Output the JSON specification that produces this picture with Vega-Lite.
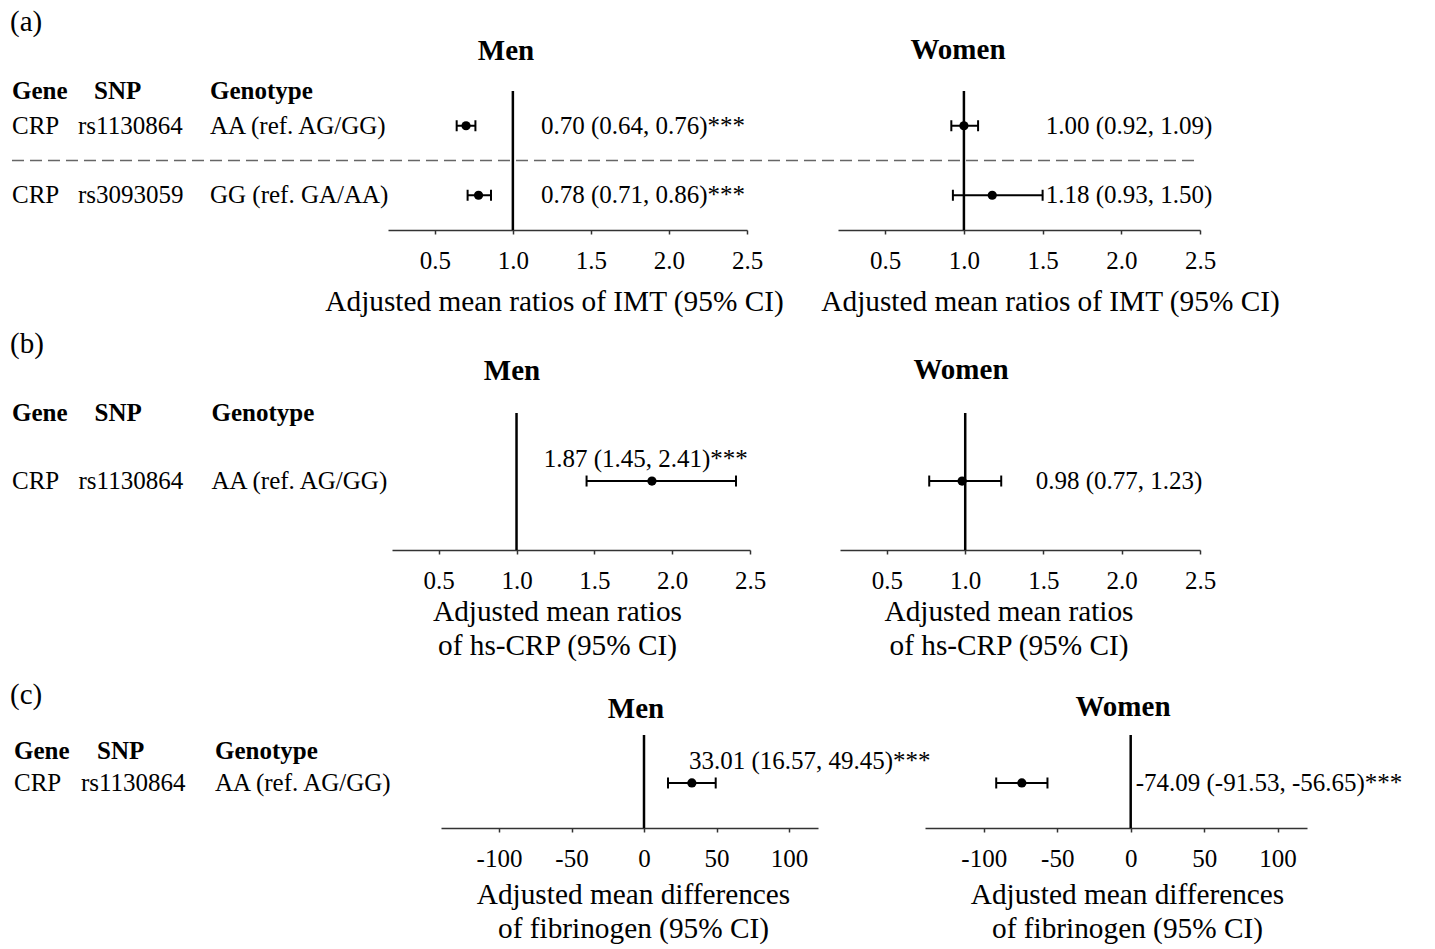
{
  "$schema": "https://vega.github.io/schema/vega-lite/v6.json",
  "background": "white",
  "padding": {"left": 10, "top": 8, "right": 5, "bottom": 2},
  "datasets": {
    "est": [
      {"fig": "a", "sex": "Men", "row": "r1", "est": 0.70, "lo": 0.64, "hi": 0.76, "label": "0.70 (0.64, 0.76)***"},
      {"fig": "a", "sex": "Men", "row": "r2", "est": 0.78, "lo": 0.71, "hi": 0.86, "label": "0.78 (0.71, 0.86)***"},
      {"fig": "a", "sex": "Women", "row": "r1", "est": 1.00, "lo": 0.92, "hi": 1.09, "label": "1.00 (0.92, 1.09)"},
      {"fig": "a", "sex": "Women", "row": "r2", "est": 1.18, "lo": 0.93, "hi": 1.50, "label": "1.18 (0.93, 1.50)"},
      {"fig": "b", "sex": "Men", "row": "r1", "est": 1.87, "lo": 1.45, "hi": 2.41, "label": "1.87 (1.45, 2.41)***"},
      {"fig": "b", "sex": "Women", "row": "r1", "est": 0.98, "lo": 0.77, "hi": 1.23, "label": "0.98 (0.77, 1.23)"},
      {"fig": "c", "sex": "Men", "row": "r1", "est": 33.01, "lo": 16.57, "hi": 49.45, "label": "33.01 (16.57, 49.45)***"},
      {"fig": "c", "sex": "Women", "row": "r1", "est": -74.09, "lo": -91.53, "hi": -56.65, "label": "-74.09 (-91.53, -56.65)***"}
    ],
    "cols": [
      {"fig": "a", "row": "header", "col": "Gene", "text": "Gene"},
      {"fig": "a", "row": "header", "col": "SNP", "text": "SNP"},
      {"fig": "a", "row": "header", "col": "Genotype", "text": "Genotype"},
      {"fig": "a", "row": "r1", "col": "Gene", "text": "CRP"},
      {"fig": "a", "row": "r1", "col": "SNP", "text": "rs1130864"},
      {"fig": "a", "row": "r1", "col": "Genotype", "text": "AA (ref. AG/GG)"},
      {"fig": "a", "row": "r2", "col": "Gene", "text": "CRP"},
      {"fig": "a", "row": "r2", "col": "SNP", "text": "rs3093059"},
      {"fig": "a", "row": "r2", "col": "Genotype", "text": "GG (ref. GA/AA)"},
      {"fig": "b", "row": "header", "col": "Gene", "text": "Gene"},
      {"fig": "b", "row": "header", "col": "SNP", "text": "SNP"},
      {"fig": "b", "row": "header", "col": "Genotype", "text": "Genotype"},
      {"fig": "b", "row": "r1", "col": "Gene", "text": "CRP"},
      {"fig": "b", "row": "r1", "col": "SNP", "text": "rs1130864"},
      {"fig": "b", "row": "r1", "col": "Genotype", "text": "AA (ref. AG/GG)"},
      {"fig": "c", "row": "header", "col": "Gene", "text": "Gene"},
      {"fig": "c", "row": "header", "col": "SNP", "text": "SNP"},
      {"fig": "c", "row": "header", "col": "Genotype", "text": "Genotype"},
      {"fig": "c", "row": "r1", "col": "Gene", "text": "CRP"},
      {"fig": "c", "row": "r1", "col": "SNP", "text": "rs1130864"},
      {"fig": "c", "row": "r1", "col": "Genotype", "text": "AA (ref. AG/GG)"}
    ]
  },
  "spacing": 322,
  "bounds": "flush",
  "vconcat": [
    {
      "hconcat": [
        {
          "width": 285, "height": 139,
          "title": {"text": "(a)", "anchor": "start", "fontWeight": "normal", "dx": -2, "offset": 42},
          "data": {"name": "cols"},
          "transform": [{"filter": "datum.fig == 'a'"}],
          "encoding": {
            "x": {"field": "col", "type": "nominal", "scale": {"type": "point", "domain": ["Gene", "SNP", "_", "Genotype"], "padding": 0.659, "align": 0}, "axis": null},
            "y": {"field": "row", "type": "nominal", "scale": {"type": "point", "domain": ["header", "r1", "mid", "r2"], "padding": 0.5, "align": 0}, "axis": null},
            "text": {"field": "text"}
          },
          "layer": [
            {"transform": [{"filter": "datum.row != 'header'"}], "mark": {"type": "text", "align": "left", "baseline": "middle"}},
            {"transform": [{"filter": "datum.row == 'header' && datum.col != 'SNP'"}], "mark": {"type": "text", "align": "left", "baseline": "middle", "fontWeight": "bold"}},
            {"transform": [{"filter": "datum.row == 'header' && datum.col == 'SNP'"}], "mark": {"type": "text", "align": "left", "baseline": "middle", "fontWeight": "bold", "dx": 16}}
          ]
        },
        {
          "width": 359, "height": 139,
          "title": {"text": "Men", "dx": -61.5, "offset": 24},
          "layer": [
            {"data": {"values": [{}]}, "mark": {"type": "rule", "color": "#000", "strokeWidth": 2.5},
             "encoding": {"x": {"datum": 1, "type": "quantitative", "scale": {"domain": [0.2, 2.5], "nice": false, "zero": false},
               "axis": {"values": [0.5, 1, 1.5, 2, 2.5], "format": ".1f", "title": "Adjusted mean ratios of IMT (95% CI)", "titleX": 166, "titlePadding": 14}}}},
            {"data": {"values": [{}]}, "mark": {"type": "rule", "color": "#666", "strokeWidth": 1.6, "strokeDash": [12, 6]},
             "encoding": {"x": {"datum": -2.209, "type": "quantitative"}, "x2": {"datum": 5.402},
               "y": {"datum": "mid", "type": "nominal", "scale": {"type": "point", "domain": ["header", "r1", "mid", "r2"], "padding": 0.5, "align": 0}, "axis": null}}},
            {"data": {"name": "est"}, "transform": [{"filter": "datum.fig == 'a' && datum.sex == 'Men'"}],
             "encoding": {"y": {"field": "row", "type": "nominal", "scale": {"type": "point", "domain": ["header", "r1", "mid", "r2"], "padding": 0.5, "align": 0}, "axis": null}},
             "layer": [
               {"mark": {"type": "rule", "color": "#000", "strokeWidth": 2}, "encoding": {"x": {"field": "lo", "type": "quantitative"}, "x2": {"field": "hi"}}},
               {"mark": {"type": "tick", "color": "#000", "size": 11, "thickness": 2, "opacity": 1}, "encoding": {"x": {"field": "lo", "type": "quantitative"}}},
               {"mark": {"type": "tick", "color": "#000", "size": 11, "thickness": 2, "opacity": 1}, "encoding": {"x": {"field": "hi", "type": "quantitative"}}},
               {"mark": {"type": "point", "filled": true, "size": 85, "color": "#000", "opacity": 1}, "encoding": {"x": {"field": "est", "type": "quantitative"}}},
               {"mark": {"type": "text", "align": "left", "baseline": "middle"}, "encoding": {"x": {"datum": 1.18, "type": "quantitative"}, "text": {"field": "label"}}}
             ]}
          ]
        },
        {
          "width": 362, "height": 139,
          "title": {"text": "Women", "dx": -61, "offset": 25},
          "layer": [
            {"data": {"values": [{}]}, "mark": {"type": "rule", "color": "#000", "strokeWidth": 2.5},
             "encoding": {"x": {"datum": 1, "type": "quantitative", "scale": {"domain": [0.2, 2.5], "nice": false, "zero": false},
               "axis": {"values": [0.5, 1, 1.5, 2, 2.5], "format": ".1f", "title": "Adjusted mean ratios of IMT (95% CI)", "titleX": 212, "titlePadding": 14}}}},
            {"data": {"name": "est"}, "transform": [{"filter": "datum.fig == 'a' && datum.sex == 'Women'"}],
             "encoding": {"y": {"field": "row", "type": "nominal", "scale": {"type": "point", "domain": ["header", "r1", "mid", "r2"], "padding": 0.5, "align": 0}, "axis": null}},
             "layer": [
               {"mark": {"type": "rule", "color": "#000", "strokeWidth": 2}, "encoding": {"x": {"field": "lo", "type": "quantitative"}, "x2": {"field": "hi"}}},
               {"mark": {"type": "tick", "color": "#000", "size": 11, "thickness": 2, "opacity": 1}, "encoding": {"x": {"field": "lo", "type": "quantitative"}}},
               {"mark": {"type": "tick", "color": "#000", "size": 11, "thickness": 2, "opacity": 1}, "encoding": {"x": {"field": "hi", "type": "quantitative"}}},
               {"mark": {"type": "point", "filled": true, "size": 85, "color": "#000", "opacity": 1}, "encoding": {"x": {"field": "est", "type": "quantitative"}}},
               {"mark": {"type": "text", "align": "left", "baseline": "middle"}, "encoding": {"x": {"datum": 1.52, "type": "quantitative"}, "text": {"field": "label"}}}
             ]}
          ]
        }
      ],
      "spacing": 91,
      "bounds": "flush"
    },
    {
      "hconcat": [
        {
          "width": 290, "height": 137,
          "title": {"text": "(b)", "anchor": "start", "fontWeight": "normal", "dx": -2, "offset": 42},
          "data": {"name": "cols"},
          "transform": [{"filter": "datum.fig == 'b'"}],
          "encoding": {
            "x": {"field": "col", "type": "nominal", "scale": {"type": "point", "domain": ["Gene", "SNP", "_", "Genotype"], "padding": 0.68, "align": 0}, "axis": null},
            "y": {"field": "row", "type": "nominal", "scale": {"type": "point", "domain": ["header", "r1"], "padding": 0.507, "align": 0}, "axis": null},
            "text": {"field": "text"}
          },
          "layer": [
            {"transform": [{"filter": "datum.row != 'header'"}], "mark": {"type": "text", "align": "left", "baseline": "middle"}},
            {"transform": [{"filter": "datum.row == 'header' && datum.col != 'SNP'"}], "mark": {"type": "text", "align": "left", "baseline": "middle", "fontWeight": "bold"}},
            {"transform": [{"filter": "datum.row == 'header' && datum.col == 'SNP'"}], "mark": {"type": "text", "align": "left", "baseline": "middle", "fontWeight": "bold", "dx": 16}}
          ]
        },
        {
          "width": 358, "height": 137,
          "title": {"text": "Men", "dx": -59, "offset": 26},
          "layer": [
            {"data": {"values": [{}]}, "mark": {"type": "rule", "color": "#000", "strokeWidth": 2.5},
             "encoding": {"x": {"datum": 1, "type": "quantitative", "scale": {"domain": [0.2, 2.5], "nice": false, "zero": false},
               "axis": {"values": [0.5, 1, 1.5, 2, 2.5], "format": ".1f", "title": ["Adjusted mean ratios", "of hs-CRP (95% CI)"], "titleX": 165, "titlePadding": 4}}}},
            {"data": {"name": "est"}, "transform": [{"filter": "datum.fig == 'b' && datum.sex == 'Men'"}],
             "encoding": {"y": {"field": "row", "type": "nominal", "scale": {"type": "point", "domain": ["header", "r1"], "padding": 0.507, "align": 0}, "axis": null}},
             "layer": [
               {"mark": {"type": "rule", "color": "#000", "strokeWidth": 2}, "encoding": {"x": {"field": "lo", "type": "quantitative"}, "x2": {"field": "hi"}}},
               {"mark": {"type": "tick", "color": "#000", "size": 11, "thickness": 2, "opacity": 1}, "encoding": {"x": {"field": "lo", "type": "quantitative"}}},
               {"mark": {"type": "tick", "color": "#000", "size": 11, "thickness": 2, "opacity": 1}, "encoding": {"x": {"field": "hi", "type": "quantitative"}}},
               {"mark": {"type": "point", "filled": true, "size": 85, "color": "#000", "opacity": 1}, "encoding": {"x": {"field": "est", "type": "quantitative"}}},
               {"mark": {"type": "text", "align": "center", "baseline": "middle", "dy": -22}, "encoding": {"x": {"datum": 1.83, "type": "quantitative"}, "text": {"field": "label"}}}
             ]}
          ]
        },
        {
          "width": 360, "height": 137,
          "title": {"text": "Women", "dx": -59, "offset": 27},
          "layer": [
            {"data": {"values": [{}]}, "mark": {"type": "rule", "color": "#000", "strokeWidth": 2.5},
             "encoding": {"x": {"datum": 1, "type": "quantitative", "scale": {"domain": [0.2, 2.5], "nice": false, "zero": false},
               "axis": {"values": [0.5, 1, 1.5, 2, 2.5], "format": ".1f", "title": ["Adjusted mean ratios", "of hs-CRP (95% CI)"], "titleX": 168.5, "titlePadding": 4}}}},
            {"data": {"name": "est"}, "transform": [{"filter": "datum.fig == 'b' && datum.sex == 'Women'"}],
             "encoding": {"y": {"field": "row", "type": "nominal", "scale": {"type": "point", "domain": ["header", "r1"], "padding": 0.507, "align": 0}, "axis": null}},
             "layer": [
               {"mark": {"type": "rule", "color": "#000", "strokeWidth": 2}, "encoding": {"x": {"field": "lo", "type": "quantitative"}, "x2": {"field": "hi"}}},
               {"mark": {"type": "tick", "color": "#000", "size": 11, "thickness": 2, "opacity": 1}, "encoding": {"x": {"field": "lo", "type": "quantitative"}}},
               {"mark": {"type": "tick", "color": "#000", "size": 11, "thickness": 2, "opacity": 1}, "encoding": {"x": {"field": "hi", "type": "quantitative"}}},
               {"mark": {"type": "point", "filled": true, "size": 85, "color": "#000", "opacity": 1}, "encoding": {"x": {"field": "est", "type": "quantitative"}}},
               {"mark": {"type": "text", "align": "left", "baseline": "middle"}, "encoding": {"x": {"datum": 1.45, "type": "quantitative"}, "text": {"field": "label"}}}
             ]}
          ]
        }
      ],
      "spacing": 90,
      "bounds": "flush"
    },
    {
      "hconcat": [
        {
          "width": 322, "height": 93,
          "title": {"text": "(c)", "anchor": "start", "fontWeight": "normal", "dx": -2, "offset": 25},
          "data": {"name": "cols"},
          "transform": [{"filter": "datum.fig == 'c'"}],
          "encoding": {
            "x": {"field": "col", "type": "nominal", "scale": {"type": "point", "domain": ["Gene", "SNP", "_", "Genotype"], "padding": 0.903, "align": 0.0165}, "axis": null},
            "y": {"field": "row", "type": "nominal", "scale": {"type": "point", "domain": ["header", "r1"], "padding": 0.953, "align": 0.262}, "axis": null},
            "text": {"field": "text"}
          },
          "layer": [
            {"transform": [{"filter": "datum.row != 'header'"}], "mark": {"type": "text", "align": "left", "baseline": "middle"}},
            {"transform": [{"filter": "datum.row == 'header' && datum.col != 'SNP'"}], "mark": {"type": "text", "align": "left", "baseline": "middle", "fontWeight": "bold"}},
            {"transform": [{"filter": "datum.row == 'header' && datum.col == 'SNP'"}], "mark": {"type": "text", "align": "left", "baseline": "middle", "fontWeight": "bold", "dx": 16}}
          ]
        },
        {
          "width": 377, "height": 93,
          "title": {"text": "Men", "dx": 6.5, "offset": 10},
          "layer": [
            {"data": {"values": [{}]}, "mark": {"type": "rule", "color": "#000", "strokeWidth": 2.5},
             "encoding": {"x": {"datum": 0, "type": "quantitative", "scale": {"domain": [-140, 120], "nice": false, "zero": false},
               "axis": {"values": [-100, -50, 0, 50, 100], "labelExpr": "'' + datum.value", "title": ["Adjusted mean differences", "of fibrinogen (95% CI)"], "titleX": 192, "titlePadding": 9}}}},
            {"data": {"name": "est"}, "transform": [{"filter": "datum.fig == 'c' && datum.sex == 'Men'"}],
             "encoding": {"y": {"field": "row", "type": "nominal", "scale": {"type": "point", "domain": ["header", "r1"], "padding": 0.953, "align": 0.262}, "axis": null}},
             "layer": [
               {"mark": {"type": "rule", "color": "#000", "strokeWidth": 2}, "encoding": {"x": {"field": "lo", "type": "quantitative"}, "x2": {"field": "hi"}}},
               {"mark": {"type": "tick", "color": "#000", "size": 11, "thickness": 2, "opacity": 1}, "encoding": {"x": {"field": "lo", "type": "quantitative"}}},
               {"mark": {"type": "tick", "color": "#000", "size": 11, "thickness": 2, "opacity": 1}, "encoding": {"x": {"field": "hi", "type": "quantitative"}}},
               {"mark": {"type": "point", "filled": true, "size": 85, "color": "#000", "opacity": 1}, "encoding": {"x": {"field": "est", "type": "quantitative"}}},
               {"mark": {"type": "text", "align": "left", "baseline": "middle", "dy": -22}, "encoding": {"x": {"datum": 31, "type": "quantitative"}, "text": {"field": "label"}}}
             ]}
          ]
        },
        {
          "width": 382, "height": 93,
          "title": {"text": "Women", "dx": 7, "offset": 12},
          "layer": [
            {"data": {"values": [{}]}, "mark": {"type": "rule", "color": "#000", "strokeWidth": 2.5},
             "encoding": {"x": {"datum": 0, "type": "quantitative", "scale": {"domain": [-140, 120], "nice": false, "zero": false},
               "axis": {"values": [-100, -50, 0, 50, 100], "labelExpr": "'' + datum.value", "title": ["Adjusted mean differences", "of fibrinogen (95% CI)"], "titleX": 202, "titlePadding": 9}}}},
            {"data": {"name": "est"}, "transform": [{"filter": "datum.fig == 'c' && datum.sex == 'Women'"}],
             "encoding": {"y": {"field": "row", "type": "nominal", "scale": {"type": "point", "domain": ["header", "r1"], "padding": 0.953, "align": 0.262}, "axis": null}},
             "layer": [
               {"mark": {"type": "rule", "color": "#000", "strokeWidth": 2}, "encoding": {"x": {"field": "lo", "type": "quantitative"}, "x2": {"field": "hi"}}},
               {"mark": {"type": "tick", "color": "#000", "size": 11, "thickness": 2, "opacity": 1}, "encoding": {"x": {"field": "lo", "type": "quantitative"}}},
               {"mark": {"type": "tick", "color": "#000", "size": 11, "thickness": 2, "opacity": 1}, "encoding": {"x": {"field": "hi", "type": "quantitative"}}},
               {"mark": {"type": "point", "filled": true, "size": 85, "color": "#000", "opacity": 1}, "encoding": {"x": {"field": "est", "type": "quantitative"}}},
               {"mark": {"type": "text", "align": "left", "baseline": "middle"}, "encoding": {"x": {"datum": 3.4, "type": "quantitative"}, "text": {"field": "label"}}}
             ]}
          ]
        }
      ],
      "spacing": 107,
      "bounds": "flush"
    }
  ],
  "config": {
    "view": {"stroke": null},
    "font": "Liberation Serif",
    "axis": {"grid": false, "domainColor": "#333", "domainWidth": 1.5, "tickColor": "#333", "tickWidth": 1.5, "tickSize": 4,
      "labelFont": "Liberation Serif", "labelFontSize": 25, "labelColor": "#000", "labelPadding": 14,
      "titleFont": "Liberation Serif", "titleFontSize": 29.3, "titleFontWeight": "normal", "titleColor": "#000", "titleLineHeight": 34,
      "labelFlush": false, "labelOverlap": false},
    "title": {"font": "Liberation Serif", "fontSize": 29, "fontWeight": "bold", "color": "#000"},
    "text": {"font": "Liberation Serif", "fontSize": 25, "color": "#000"}
  }
}
